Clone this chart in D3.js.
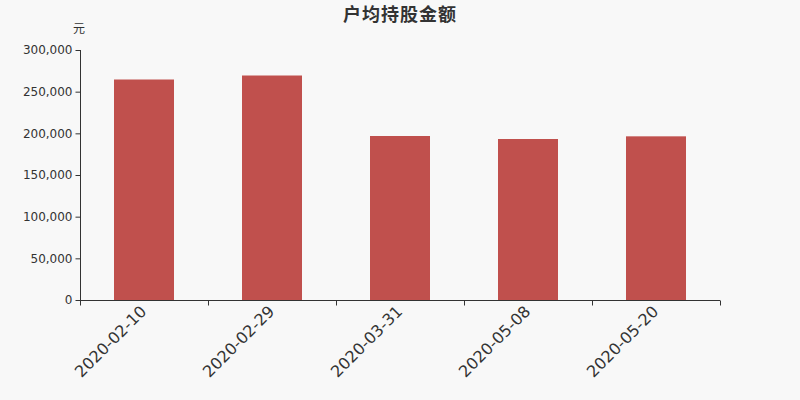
<!DOCTYPE html>
<html>
<head>
<meta charset="utf-8">
<script src="https://cdn.jsdelivr.net/npm/d3@7/dist/d3.min.js"></script>
<style>
  body { margin: 0; background: #f8f8f8; }
  text { font-family: "DejaVu Sans", "Noto Sans CJK SC", sans-serif; }
</style>
</head>
<body>
<div id="chart"></div>
<script>
// data
var dates = ["2020-02-10", "2020-02-29", "2020-03-31", "2020-05-08", "2020-05-20"];
var amounts = [264600, 269400, 196800, 193200, 196400];
var yTicks = [0, 50000, 100000, 150000, 200000, 250000, 300000];

var svgWidth = 800;
var svgHeight = 400;
var margin = { top: 50, right: 80, bottom: 100, left: 80 };
var width = svgWidth - margin.left - margin.right;
var height = svgHeight - margin.top - margin.bottom;

var svg = d3.select("#chart")
    .append("svg")
    .attr("width", svgWidth)
    .attr("height", svgHeight)
    .style("background", "#f8f8f8");

// title
svg.append("text")
    .attr("x", svgWidth / 2)
    .attr("y", 21)
    .attr("text-anchor", "middle")
    .attr("font-size", 18)
    .attr("font-weight", "bold")
    .attr("letter-spacing", 1)
    .attr("fill", "#333")
    .text("户均持股金额");

svg.append("text")
    .attr("x", 79)
    .attr("y", 33)
    .attr("text-anchor", "middle")
    .attr("font-size", 12)
    .attr("fill", "#333")
    .text("元");

var chartGroup = svg.append("g")
    .attr("transform", `translate(${margin.left}, ${margin.top})`);

var xScale = d3.scaleBand()
    .domain(dates)
    .range([0, width]);

var yScale = d3.scaleLinear()
    .domain([0, 300000])
    .range([height, 0]);

var barWidth = 60;

chartGroup.selectAll("rect")
    .data(amounts)
    .enter()
    .append("rect")
    .attr("x", (d, i) => xScale(dates[i]) + (xScale.bandwidth() - barWidth) / 2)
    .attr("y", d => yScale(d))
    .attr("width", barWidth)
    .attr("height", d => height - yScale(d))
    .attr("fill", "#c0504d");

// y axis
var yAxis = chartGroup.append("g")
    .attr("transform", "translate(0.5, 0)")
    .call(d3.axisLeft(yScale).tickValues(yTicks).tickSize(5).tickPadding(3)
        .tickFormat(d3.format(",")));
yAxis.select(".domain").attr("stroke", "#333").attr("d", `M0,0V${height}`);
yAxis.selectAll(".tick line").attr("stroke", "#333");
yAxis.selectAll(".tick text").attr("font-size", 12).attr("fill", "#333")
    .style("font-family", "DejaVu Sans");

// x axis
var xTickPos = dates.map(d => xScale(d)).concat([width]);
var xAxis = chartGroup.append("g")
    .attr("transform", `translate(0, ${height + 0.5})`);
xAxis.append("line")
    .attr("x1", 0).attr("x2", width)
    .attr("stroke", "#333");
xAxis.selectAll(".xtick")
    .data(xTickPos)
    .enter()
    .append("line")
    .attr("x1", d => Math.round(d) + 0.5)
    .attr("x2", d => Math.round(d) + 0.5)
    .attr("y1", 0).attr("y2", 5)
    .attr("stroke", "#333");
xAxis.selectAll(".xlabel")
    .data(dates)
    .enter()
    .append("text")
    .attr("transform", d => `translate(${xScale(d) + xScale.bandwidth() / 2 - 0.6}, 8) rotate(-45)`)
    .attr("text-anchor", "end")
    .attr("dy", "0.35em")
    .attr("font-size", 16)
    .attr("fill", "#333")
    .text(d => d);
</script>
</body>
</html>
